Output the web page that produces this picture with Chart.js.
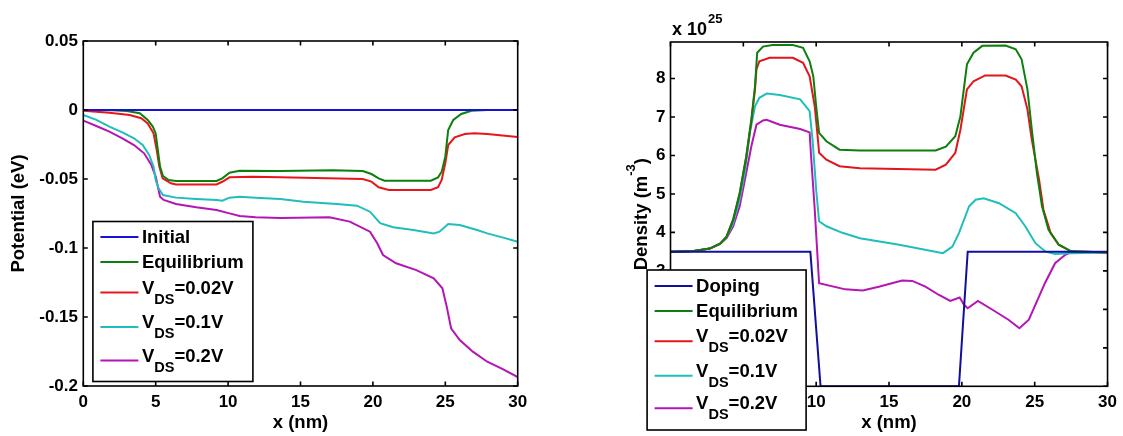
<!DOCTYPE html>
<html>
<head>
<meta charset="utf-8">
<title>Potential and density profiles</title>
<script src="https://cdn.jsdelivr.net/npm/chart.js@4.4.1/dist/chart.umd.min.js"></script>
<style>
  html, body { margin: 0; padding: 0; background: #fff; }
  #wrap { position: relative; width: 1123px; height: 436px; }
  #potChart { position: absolute; left: 0; top: 0; }
  #densChart { position: absolute; left: 561px; top: 0; }
</style>
</head>
<body>
<div id="wrap">
  <canvas id="potChart" width="561" height="436"></canvas>
  <canvas id="densChart" width="562" height="436"></canvas>
</div>
<script>
// ---- shared x axis ----
const xTicks = [0, 5, 10, 15, 20, 25, 30];

// ---- left plot: potential (eV) ----
const potYTicks = [-0.2, -0.15, -0.1, -0.05, 0, 0.05];
const potYLabels = ['-0.2', '-0.15', '-0.1', '-0.05', '0', '0.05'];
const potLabels = ['Initial', 'Equilibrium', 'V_{DS}=0.02V', 'V_{DS}=0.1V', 'V_{DS}=0.2V'];

const initX = [0, 30];
const initY = [0, 0];

const eqPotX = [0, 1, 2, 3, 3.9, 4.45, 4.8, 5.0, 5.15, 5.3, 5.5, 5.9, 6.4, 9.2, 9.6, 10.1, 10.8, 13.6, 17.2, 19.3, 19.9, 20.4, 20.8, 24.0, 24.5, 24.75, 25.0, 25.2, 25.55, 26.1, 26.8, 27.9, 30];
const eqPotY = [0, 0, -0.0002, -0.0007, -0.0024, -0.0072, -0.012, -0.017, -0.029, -0.041, -0.0478, -0.0507, -0.0514, -0.0514, -0.0495, -0.0454, -0.044, -0.0442, -0.0437, -0.0442, -0.0464, -0.0495, -0.0512, -0.0512, -0.0488, -0.0447, -0.0338, -0.0145, -0.0072, -0.0029, -0.0005, 0, 0];

const v02PotX = [0, 1.8, 3.2, 4.0, 4.45, 4.85, 5.07, 5.25, 5.48, 6.05, 6.4, 9.2, 9.6, 10.1, 11.7, 13.6, 19.3, 19.9, 20.4, 21.1, 24.0, 24.5, 24.75, 25.0, 25.2, 25.65, 26.35, 27.0, 27.9, 30];
const v02PotY = [-0.0005, -0.002, -0.0036, -0.006, -0.0097, -0.0169, -0.029, -0.041, -0.0495, -0.0531, -0.0539, -0.0539, -0.052, -0.0488, -0.0483, -0.0488, -0.05, -0.0519, -0.056, -0.058, -0.058, -0.056, -0.0507, -0.0386, -0.0254, -0.0198, -0.0174, -0.0169, -0.0174, -0.0195];

const v1PotX = [0, 0.9, 1.8, 2.7, 3.5, 4.1, 4.55, 4.85, 5.0, 5.2, 5.5, 6.4, 7.8, 9.2, 9.6, 10.1, 10.8, 11.9, 13.6, 15.2, 17.5, 18.9, 19.8, 20.5, 21.4, 22.8, 24.2, 24.6, 25.2, 26.0, 27.2, 27.9, 29, 30];
const v1PotY = [-0.0036, -0.0072, -0.0121, -0.0162, -0.0205, -0.0254, -0.0326, -0.041, -0.0507, -0.0568, -0.0616, -0.0635, -0.0645, -0.0652, -0.0657, -0.0635, -0.0628, -0.0635, -0.0645, -0.0664, -0.0681, -0.0693, -0.0737, -0.082, -0.085, -0.087, -0.0894, -0.0882, -0.0826, -0.0833, -0.087, -0.0894, -0.0925, -0.0955];

const v2PotX = [0, 0.9, 1.8, 2.7, 3.5, 4.2, 4.7, 5.0, 5.15, 5.3, 5.55, 6.4, 7.8, 9.2, 10.1, 10.8, 11.9, 13.6, 17.0, 18.4, 19.8, 20.3, 20.7, 21.6, 23.0, 24.2, 24.8, 25.1, 25.4, 26.0, 26.9, 27.9, 29.0, 30];
const v2PotY = [-0.0077, -0.0116, -0.0157, -0.0205, -0.0254, -0.0314, -0.0399, -0.0483, -0.0556, -0.0628, -0.0652, -0.0681, -0.0705, -0.0725, -0.0749, -0.0768, -0.0778, -0.0783, -0.0778, -0.0809, -0.0882, -0.0966, -0.1051, -0.1111, -0.116, -0.122, -0.1292, -0.1425, -0.1582, -0.1667, -0.1751, -0.1824, -0.188, -0.1935];

// ---- right plot: density (x 10^25 m^-3) ----
const densYTicks = [0, 1, 2, 3, 4, 5, 6, 7, 8];
const densYLabels = ['0', '1', '2', '3', '4', '5', '6', '7', '8'];
const densLabels = ['Doping', 'Equilibrium', 'V_{DS}=0.02V', 'V_{DS}=0.1V', 'V_{DS}=0.2V'];

const dopX = [0, 9.6, 10.3, 19.8, 20.4, 30];
const dopY = [3.5, 3.5, 0, 0, 3.5, 3.5];

const eqDensX = [0, 1.6, 2.7, 3.4, 3.85, 4.3, 4.75, 5.2, 5.55, 5.8, 5.95, 6.35, 7.0, 8.4, 9.1, 9.55, 9.8, 10.0, 10.2, 10.7, 11.6, 13.0, 18.2, 18.9, 19.55, 19.9, 20.35, 20.8, 21.4, 23.0, 23.7, 24.1, 24.5, 24.8, 25.15, 25.5, 25.95, 26.65, 27.5, 30];
const eqDensY = [3.5, 3.52, 3.58, 3.71, 3.89, 4.33, 5.03, 5.98, 6.93, 7.8, 8.67, 8.83, 8.87, 8.87, 8.8, 8.45, 8.06, 7.28, 6.59, 6.37, 6.15, 6.13, 6.13, 6.23, 6.5, 7.02, 8.37, 8.67, 8.85, 8.86, 8.76, 8.5, 7.72, 6.68, 5.55, 4.68, 4.07, 3.68, 3.51, 3.48];

const v02DensX = [0, 1.6, 2.7, 3.4, 3.85, 4.3, 4.75, 5.2, 5.55, 5.8, 5.9, 6.1, 6.8, 8.4, 9.1, 9.55, 9.9, 10.1, 10.2, 10.7, 11.6, 13.0, 18.2, 18.9, 19.55, 19.9, 20.35, 20.8, 21.6, 23.0, 23.7, 24.1, 24.5, 24.8, 25.3, 25.6, 26.1, 26.65, 27.5, 30];
const v02DensY = [3.5, 3.52, 3.58, 3.71, 3.89, 4.33, 5.0, 5.95, 6.9, 7.72, 8.24, 8.45, 8.54, 8.54, 8.41, 8.06, 7.28, 6.5, 6.07, 5.89, 5.72, 5.67, 5.63, 5.76, 6.07, 6.67, 7.72, 7.93, 8.08, 8.08, 7.97, 7.8, 7.2, 6.41, 5.37, 4.59, 3.98, 3.68, 3.51, 3.48];

const v1DensX = [0, 1.6, 2.7, 3.4, 3.85, 4.3, 4.75, 5.1, 5.45, 5.8, 6.1, 6.6, 7.5, 8.9, 9.55, 9.75, 10.0, 10.2, 10.7, 11.8, 13.0, 15.7, 18.7, 19.35, 19.8, 20.5, 20.95, 21.5, 22.55, 23.7, 24.35, 25.05, 25.75, 26.4, 27.5, 30];
const v1DensY = [3.5, 3.52, 3.58, 3.7, 3.87, 4.24, 4.85, 5.55, 6.59, 7.28, 7.5, 7.61, 7.57, 7.46, 7.15, 6.41, 5.11, 4.29, 4.16, 3.99, 3.85, 3.68, 3.46, 3.63, 3.98, 4.68, 4.85, 4.89, 4.76, 4.5, 4.16, 3.72, 3.5, 3.44, 3.46, 3.48];

const v2DensX = [0, 1.6, 2.7, 3.4, 3.85, 4.3, 4.75, 5.2, 5.55, 5.9, 6.35, 6.6, 7.5, 8.9, 9.55, 9.65, 9.9, 10.2, 12.0, 13.2, 14.3, 15.9, 16.6, 17.5, 18.4, 19.2, 19.85, 20.15, 20.4, 21.1, 22.1, 23.2, 23.95, 24.6, 25.7, 26.4, 27.1, 27.5, 30];
const v2DensY = [3.5, 3.52, 3.58, 3.7, 3.85, 4.16, 4.68, 5.55, 6.24, 6.8, 6.91, 6.93, 6.8, 6.69, 6.6, 5.98, 4.6, 2.68, 2.52, 2.49, 2.59, 2.75, 2.74, 2.59, 2.38, 2.22, 2.31, 2.12, 2.03, 2.22, 1.99, 1.73, 1.51, 1.73, 2.68, 3.2, 3.42, 3.49, 3.48];

// ---- styling ----
const FONT = '"Liberation Sans", Arial, Helvetica, sans-serif';
const tickFont = { family: FONT, size: 17, weight: 'bold' };
const titleFont = { family: FONT, size: 18.5, weight: 'bold' };
const legendMain = 'bold 18.5px ' + FONT;
const legendSub = 'bold 14.5px ' + FONT;

function pts(xs, ys) {
  return xs.map((x, i) => ({ x: x, y: ys[i] }));
}

function line(label, xs, ys, color) {
  return {
    label: label,
    data: pts(xs, ys),
    borderColor: color,
    backgroundColor: color,
    borderWidth: 2,
    pointRadius: 0,
    tension: 0,
    fill: false
  };
}

// text with an optional _{subscript}
function drawLabel(ctx, text, x, y) {
  ctx.fillStyle = '#000';
  ctx.textAlign = 'left';
  const m = text.match(/^(.*)_\{(.*)\}(.*)$/);
  if (!m) {
    ctx.font = legendMain;
    ctx.textBaseline = 'middle';
    ctx.fillText(text, x, y + 1);
    return;
  }
  ctx.textBaseline = 'alphabetic';
  ctx.font = legendMain;
  ctx.fillText(m[1], x, y + 1);
  let cx = x + ctx.measureText(m[1]).width;
  ctx.font = legendSub;
  ctx.fillText(m[2], cx, y + 11);
  cx += ctx.measureText(m[2]).width;
  ctx.font = legendMain;
  ctx.fillText(m[3], cx, y + 1);
}

// box around the axes with inward ticks on all four sides
const matlabFrame = {
  id: 'matlabFrame',
  afterDatasetsDraw(chart) {
    const { ctx, chartArea: a, scales } = chart;
    const len = 4.5;
    ctx.save();
    ctx.strokeStyle = '#000';
    ctx.lineWidth = 1.6;
    ctx.strokeRect(a.left, a.top, a.right - a.left, a.bottom - a.top);
    ctx.beginPath();
    scales.x.ticks.forEach(t => {
      const px = scales.x.getPixelForValue(t.value);
      ctx.moveTo(px, a.bottom); ctx.lineTo(px, a.bottom - len);
      ctx.moveTo(px, a.top); ctx.lineTo(px, a.top + len);
    });
    scales.y.ticks.forEach(t => {
      const py = scales.y.getPixelForValue(t.value);
      ctx.moveTo(a.left, py); ctx.lineTo(a.left + len, py);
      ctx.moveTo(a.right, py); ctx.lineTo(a.right - len, py);
    });
    ctx.stroke();
    ctx.restore();
  }
};

// boxed legend drawn last, like matlab's
const boxLegend = {
  id: 'boxLegend',
  afterDraw(chart, args, opts) {
    if (!opts || opts.left === undefined) return;
    const ctx = chart.ctx;
    ctx.save();
    ctx.fillStyle = '#fff';
    ctx.fillRect(opts.left, opts.top, opts.width, opts.height);
    ctx.strokeStyle = '#000';
    ctx.lineWidth = 1.6;
    ctx.strokeRect(opts.left, opts.top, opts.width, opts.height);
    chart.data.datasets.forEach((ds, i) => {
      const y = opts.top + opts.rows[i];
      ctx.strokeStyle = ds.borderColor;
      ctx.lineWidth = 2;
      ctx.beginPath();
      ctx.moveTo(opts.left + 7.5, y);
      ctx.lineTo(opts.left + 45.5, y);
      ctx.stroke();
      drawLabel(ctx, ds.label, opts.left + 49, y);
    });
    ctx.restore();
  }
};

// rotated y title with superscript and the x 10^25 multiplier
const densExtras = {
  id: 'densExtras',
  afterDraw(chart) {
    const ctx = chart.ctx;
    const a = chart.chartArea;
    ctx.save();
    ctx.fillStyle = '#000';
    ctx.textBaseline = 'alphabetic';
    ctx.textAlign = 'left';
    // multiplier
    ctx.font = 'bold 18px ' + FONT;
    ctx.fillText('x 10', a.left + 1.5, 35);
    const w = ctx.measureText('x 10').width;
    ctx.font = 'bold 13px ' + FONT;
    ctx.fillText('25', a.left + 2.5 + w, 23);
    // y title
    const parts = [['Density (m', 'bold 18.5px ' + FONT, 7], ['-3', 'bold 13px ' + FONT, -5], [')', 'bold 18.5px ' + FONT, 7]];
    let total = 0;
    parts.forEach(p => { ctx.font = p[1]; total += ctx.measureText(p[0]).width; });
    ctx.translate(78.5, (a.top + a.bottom) / 2);
    ctx.rotate(-Math.PI / 2);
    let x = -total / 2;
    parts.forEach(p => {
      ctx.font = p[1];
      ctx.fillText(p[0], x, p[2]);
      x += ctx.measureText(p[0]).width;
    });
    ctx.restore();
  }
};

function xAxis(height) {
  return {
    type: 'linear', min: 0, max: 30,
    afterBuildTicks: s => { s.ticks = xTicks.map(v => ({ value: v })); },
    afterFit: s => { s.height = height; },
    grid: { display: false, drawTicks: false },
    border: { display: false },
    ticks: { color: '#000', font: tickFont, padding: 6, maxRotation: 0, autoSkip: false, callback: v => String(v) },
    title: { display: true, text: 'x (nm)', color: '#000', font: titleFont, padding: { top: 0, bottom: 2 } }
  };
}

new Chart(document.getElementById('potChart'), {
  type: 'line',
  data: {
    datasets: [
      line(potLabels[0], initX, initY, '#1414d2'),
      line(potLabels[1], eqPotX, eqPotY, '#0d7f0d'),
      line(potLabels[2], v02PotX, v02PotY, '#e8161b'),
      line(potLabels[3], v1PotX, v1PotY, '#20bdbd'),
      line(potLabels[4], v2PotX, v2PotY, '#b415b4')
    ]
  },
  options: {
    responsive: false,
    animation: false,
    devicePixelRatio: 1,
    layout: { padding: { top: 41, right: 43.3, left: 0, bottom: 0 } },
    scales: {
      x: xAxis(50),
      y: {
        type: 'linear', min: -0.2, max: 0.05,
        afterBuildTicks: s => { s.ticks = potYTicks.map(v => ({ value: v })); },
        afterFit: s => { s.width = 83.3; },
        grid: { display: false, drawTicks: false },
        border: { display: false },
        ticks: { color: '#000', font: tickFont, padding: 5.3, autoSkip: false, callback: (v, i) => potYLabels[i] },
        title: { display: true, text: 'Potential (eV)', color: '#000', font: titleFont, padding: { top: 8, bottom: 0 } }
      }
    },
    plugins: {
      legend: { display: false },
      tooltip: { enabled: false },
      boxLegend: { left: 92.9, top: 221.5, width: 160, height: 160, rows: [15.5, 40.5, 71, 105.5, 139] }
    }
  },
  plugins: [matlabFrame, boxLegend]
});

new Chart(document.getElementById('densChart'), {
  type: 'line',
  data: {
    datasets: [
      line(densLabels[0], dopX, dopY, '#10109c'),
      line(densLabels[1], eqDensX, eqDensY, '#0d7f0d'),
      line(densLabels[2], v02DensX, v02DensY, '#e0161b'),
      line(densLabels[3], v1DensX, v1DensY, '#20bdbd'),
      line(densLabels[4], v2DensX, v2DensY, '#b415b4')
    ]
  },
  options: {
    responsive: false,
    animation: false,
    devicePixelRatio: 1,
    layout: { padding: { top: 42, right: 14, left: 0, bottom: 0 } },
    scales: {
      x: xAxis(49.7),
      y: {
        type: 'linear', min: 0, max: 8.95,
        afterBuildTicks: s => { s.ticks = densYTicks.map(v => ({ value: v })); },
        afterFit: s => { s.width = 109.5; },
        grid: { display: false, drawTicks: false },
        border: { display: false },
        ticks: { color: '#000', font: tickFont, padding: 5, autoSkip: false, callback: (v, i) => densYLabels[i] },
        title: { display: false }
      }
    },
    plugins: {
      legend: { display: false },
      tooltip: { enabled: false },
      boxLegend: { left: 86.1, top: 270, width: 159, height: 160, rows: [16, 41, 71.3, 105.7, 138.3] }
    }
  },
  plugins: [matlabFrame, densExtras, boxLegend]
});
</script>
</body>
</html>
